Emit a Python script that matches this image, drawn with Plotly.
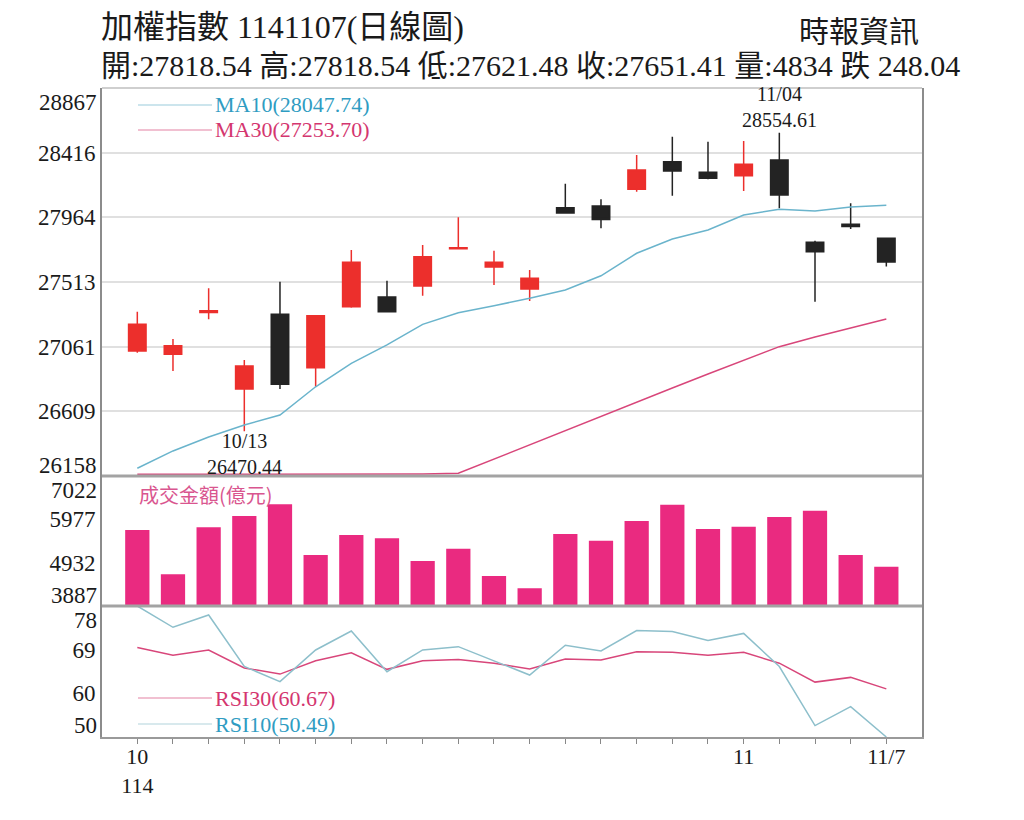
import plotly.graph_objects as go
from plotly.subplots import make_subplots

# ---------------- data ----------------
ROC_YEAR = 114
dates = ["10/07", "10/08", "10/09", "10/13", "10/14", "10/15", "10/16", "10/17",
         "10/20", "10/21", "10/22", "10/23", "10/27", "10/28", "10/29", "10/30",
         "10/31", "11/03", "11/04", "11/05", "11/06", "11/07"]

opens = [27031, 27008, 27300, 26765, 27287, 26914, 27340, 27408, 27485, 27745, 27617,
         27464, 28031, 28043, 28160, 28352, 28278, 28255, 28364, 27790, 27915, 27818.54]
highs = [27305, 27115, 27468, 26968, 27515, 27280, 27736, 27522, 27771, 27964, 27731,
         27596, 28199, 28090, 28399, 28527, 28492, 28497, 28554.61, 27801, 28062, 27818.54]
lows = [27019, 26891, 27252, 26470.44, 26765, 26781, 27333, 27300, 27417, 27745, 27492,
        27380, 27990, 27887, 28143, 28115, 28230, 28148, 28027, 27375, 27883, 27621.48]
closes = [27217, 27068, 27312, 26926, 26798, 27277, 27650, 27305, 27689, 27752, 27650,
          27538, 27994, 27948, 28295, 28288, 28237, 28334, 28120, 27724, 27899.45, 27651.41]

ma10 = [26212, 26333, 26430, 26514, 26584, 26781, 26945, 27073, 27217, 27298, 27347,
        27399, 27457, 27556, 27713, 27813, 27876, 27980, 28020, 28008, 28036, 28047.74]
ma30 = [26170, 26170, 26170, 26170, 26170, 26170, 26170, 26170, 26172, 26177, 26277,
        26374, 26472, 26577, 26675, 26772, 26870, 26968, 27061, 27128, 27191, 27253.70]

turnover = [5720, 4652, 5785, 6058, 6340, 5117, 5600, 5520, 4972, 5269, 4611,
            4314, 5624, 5462, 5937, 6330, 5744, 5800, 6034, 6186, 5117, 4834]

rsi10 = [78.2, 73.7, 76.3, 65.4, 62.2, 68.9, 72.9, 64.3, 68.9, 69.6, 66.6,
         63.6, 69.9, 68.7, 73.0, 72.8, 70.9, 72.4, 65.4, 52.9, 56.9, 50.49]
rsi30 = [69.4, 67.8, 68.9, 65.1, 63.8, 66.6, 68.3, 64.8, 66.6, 66.9, 66.1,
         64.9, 67.0, 66.8, 68.5, 68.4, 67.8, 68.4, 66.1, 62.1, 63.1, 60.67]

price_ticks = [26158, 26609.5, 27061, 27512.5, 27964, 28415.5, 28867]
price_tick_text = ["26158", "26609", "27061", "27513", "27964", "28416", "28867"]
vol_ticks = [3887, 4932, 5977, 7022]
rsi_ticks = [50.49, 59.727, 68.963, 78.2]

x_idx = list(range(len(dates)))

# ---------------- styling ----------------
W, H = 1024, 820
ML, MR, MT, MB = 102, 102, 88, 83
PW, PH = W - ML - MR, H - MT - MB
ROWS = [388, 130, 131]

RED = "#ec2f2c"
BLACK = "#232323"
PINK = "#ea2a80"
MA10_C = "#6ab4cc"
MA30_C = "#d8467a"
RSI10_C = "#8dbfcb"
RSI30_C = "#d8467a"
TXT_BLUE = "#2f9cc2"
TXT_PINK = "#d4366f"
FONT = "Liberation Serif, Noto Sans CJK TC, serif"
CJK = "Noto Sans CJK TC, Liberation Serif"


def fx(px):
    return (px - ML) / PW


def fy(py):
    return 1 - (py - MT) / PH


fig = make_subplots(rows=3, cols=1, shared_xaxes=True, vertical_spacing=0,
                    row_heights=ROWS)

# price panel
fig.add_trace(go.Scatter(x=x_idx, y=ma30, mode="lines",
                         line=dict(color=MA30_C, width=1.5), hoverinfo="skip"),
              row=1, col=1)
fig.add_trace(go.Scatter(x=x_idx, y=ma10, mode="lines",
                         line=dict(color=MA10_C, width=1.5), hoverinfo="skip"),
              row=1, col=1)
fig.add_trace(go.Candlestick(
    x=x_idx, open=opens, high=highs, low=lows, close=closes,
    increasing=dict(line=dict(color=RED, width=1.5), fillcolor=RED),
    decreasing=dict(line=dict(color=BLACK, width=1.5), fillcolor=BLACK),
    whiskerwidth=0, showlegend=False), row=1, col=1)

# turnover panel
fig.add_trace(go.Bar(x=x_idx, y=turnover, width=0.68, marker=dict(color=PINK, line_width=0)),
              row=2, col=1)

# RSI panel
fig.add_trace(go.Scatter(x=x_idx, y=rsi30, mode="lines",
                         line=dict(color=RSI30_C, width=1.5)), row=3, col=1)
fig.add_trace(go.Scatter(x=x_idx, y=rsi10, mode="lines",
                         line=dict(color=RSI10_C, width=1.5)), row=3, col=1)

# x axis labels: month at month change, year under the first, last date at the end
ticktext = []
for i, d in enumerate(dates):
    m, day = d.split("/")
    if i == 0:
        ticktext.append(f"{int(m)}<br>{ROC_YEAR}")
    elif i == len(dates) - 1:
        ticktext.append(f"{int(m)}/{int(day)}")
    elif m != dates[i - 1].split("/")[0]:
        ticktext.append(f"{int(m)}")
    else:
        ticktext.append("")

xr = [-0.99, 22.0]
fig.update_xaxes(range=xr, showgrid=False, zeroline=False, rangeslider_visible=False,
                 showticklabels=False, ticks="")
fig.update_xaxes(row=3, col=1, showticklabels=True, tickmode="array", tickvals=x_idx,
                 ticktext=ticktext, ticks="outside", ticklen=5, tickwidth=1,
                 tickcolor="#888888", showline=True, linecolor="#9a9a9a", linewidth=2,
                 ticklabelstandoff=-6,
                 tickfont=dict(size=22, color="#1a1a1a", family=FONT))

yfont = dict(size=23, color="#1a1a1a", family=FONT)
common_y = dict(zeroline=False, showline=True, linecolor="#8c8c8c", linewidth=2,
                mirror=True, ticks="", tickfont=yfont, fixedrange=True)
fig.update_yaxes(row=1, col=1, range=[price_ticks[0], price_ticks[-1]], tickmode="array",
                 tickvals=price_ticks[1:-1], ticktext=price_tick_text[1:-1],
                 showgrid=True, gridcolor="#e0e0e0", gridwidth=2, **common_y)
fig.update_yaxes(row=2, col=1, range=[vol_ticks[0], vol_ticks[-1]], tickmode="array",
                 tickvals=vol_ticks[1:-1], ticktext=[str(v) for v in vol_ticks[1:-1]],
                 showgrid=False, **common_y)
fig.update_yaxes(row=3, col=1, range=[rsi_ticks[0], rsi_ticks[-1]], tickmode="array",
                 tickvals=rsi_ticks[1:-1], ticktext=[str(round(v)) for v in rsi_ticks[1:-1]],
                 showgrid=False, **common_y)

ann = []
# end labels of each value axis, nudged inside the panel
edge = [("y", price_ticks[-1], price_tick_text[-1], -14),
        ("y", price_ticks[0], price_tick_text[0], 11),
        ("y2", vol_ticks[-1], str(vol_ticks[-1]), -14),
        ("y2", vol_ticks[0], str(vol_ticks[0]), 11),
        ("y3", rsi_ticks[-1], str(round(rsi_ticks[-1])), -14),
        ("y3", rsi_ticks[0], str(round(rsi_ticks[0])), 12)]
for yref, val, txt, shift in edge:
    ann.append(dict(xref="paper", yref=yref, x=0, y=val, text=txt, showarrow=False,
                    xanchor="right", yanchor="middle", xshift=-3, yshift=shift,
                    font=yfont))

# header
last = len(dates) - 1
mm, dd = dates[last].split("/")
chg = closes[last - 1] - closes[last]
ann.append(dict(xref="paper", yref="paper", x=fx(99), y=fy(27), xanchor="left",
                yanchor="middle", showarrow=False,
                text=f"加權指數 {ROC_YEAR}{mm}{dd}(日線圖)",
                font=dict(size=32, family=FONT, color="#1a1a1a")))
ann.append(dict(xref="paper", yref="paper", x=fx(921), y=fy(29), xanchor="right",
                yanchor="middle", showarrow=False, text="時報資訊",
                font=dict(size=30, family=CJK, color="#1a1a1a")))
ann.append(dict(xref="paper", yref="paper", x=fx(99), y=fy(65), xanchor="left",
                yanchor="middle", showarrow=False,
                text=(f"開:{opens[last]:.2f} 高:{highs[last]:.2f} 低:{lows[last]:.2f} "
                      f"收:{closes[last]:.2f} 量:{turnover[last]} "
                      f"{'跌' if chg > 0 else '漲'} {abs(chg):.2f}"),
                font=dict(size=30, family=FONT, color="#1a1a1a")))

# legends
legend_items = [(105, f"MA10({ma10[-1]:.2f})", TXT_BLUE, MA10_C),
                (130, f"MA30({ma30[-1]:.2f})", TXT_PINK, MA30_C),
                (698, f"RSI30({rsi30[-1]:.2f})", TXT_PINK, RSI30_C),
                (724, f"RSI10({rsi10[-1]:.2f})", TXT_BLUE, RSI10_C)]
shapes = []
for py, txt, tc, lc in legend_items:
    ann.append(dict(xref="paper", yref="paper", x=fx(213), y=fy(py), xanchor="left",
                    yanchor="middle", showarrow=False, text=txt,
                    font=dict(size=22, family=FONT, color=tc)))
    shapes.append(dict(type="line", xref="paper", yref="paper", x0=fx(138), x1=fx(212),
                       y0=fy(py), y1=fy(py), line=dict(color=lc, width=1.5),
                       opacity=0.45))

ann.append(dict(xref="paper", yref="paper", x=fx(137), y=fy(494), xanchor="left",
                yanchor="middle", showarrow=False, text="成交金額(億元)",
                font=dict(size=20, family=CJK, color="#d9568f")))

# extreme markers
hi_i = max(x_idx, key=lambda i: highs[i])
lo_i = min(x_idx, key=lambda i: lows[i])
ann.append(dict(xref="x", yref="y", x=hi_i, y=highs[hi_i], xanchor="center",
                yanchor="bottom", showarrow=False, yshift=0,
                text=f"{dates[hi_i]}<br>{highs[hi_i]:.2f}",
                font=dict(size=20, family=FONT, color="#1a1a1a")))
ann.append(dict(xref="x", yref="y", x=lo_i, y=lows[lo_i], xanchor="center",
                yanchor="top", showarrow=False, yshift=3,
                text=f"{dates[lo_i]}<br>{lows[lo_i]:.2f}",
                font=dict(size=20, family=FONT, color="#1a1a1a")))

# frame and panel separators
tot = sum(ROWS)
sep1 = 1 - ROWS[0] / tot
sep2 = ROWS[2] / tot
shapes += [
    dict(type="line", xref="paper", yref="paper", x0=0, x1=1, y0=1, y1=1,
         line=dict(color="#cfcfcf", width=2), layer="above"),
    dict(type="line", xref="paper", yref="paper", x0=0, x1=1, y0=sep1, y1=sep1,
         line=dict(color="#a3a3a3", width=3), layer="above"),
    dict(type="line", xref="paper", yref="paper", x0=0, x1=1, y0=sep2, y1=sep2,
         line=dict(color="#a3a3a3", width=3), layer="above"),
]

fig.update_layout(width=W, height=H, margin=dict(l=ML, r=MR, t=MT, b=MB),
                  paper_bgcolor="white", plot_bgcolor="white", showlegend=False,
                  font=dict(family=FONT, color="#1a1a1a"),
                  annotations=ann, shapes=shapes)

fig.write_html("out.html")
